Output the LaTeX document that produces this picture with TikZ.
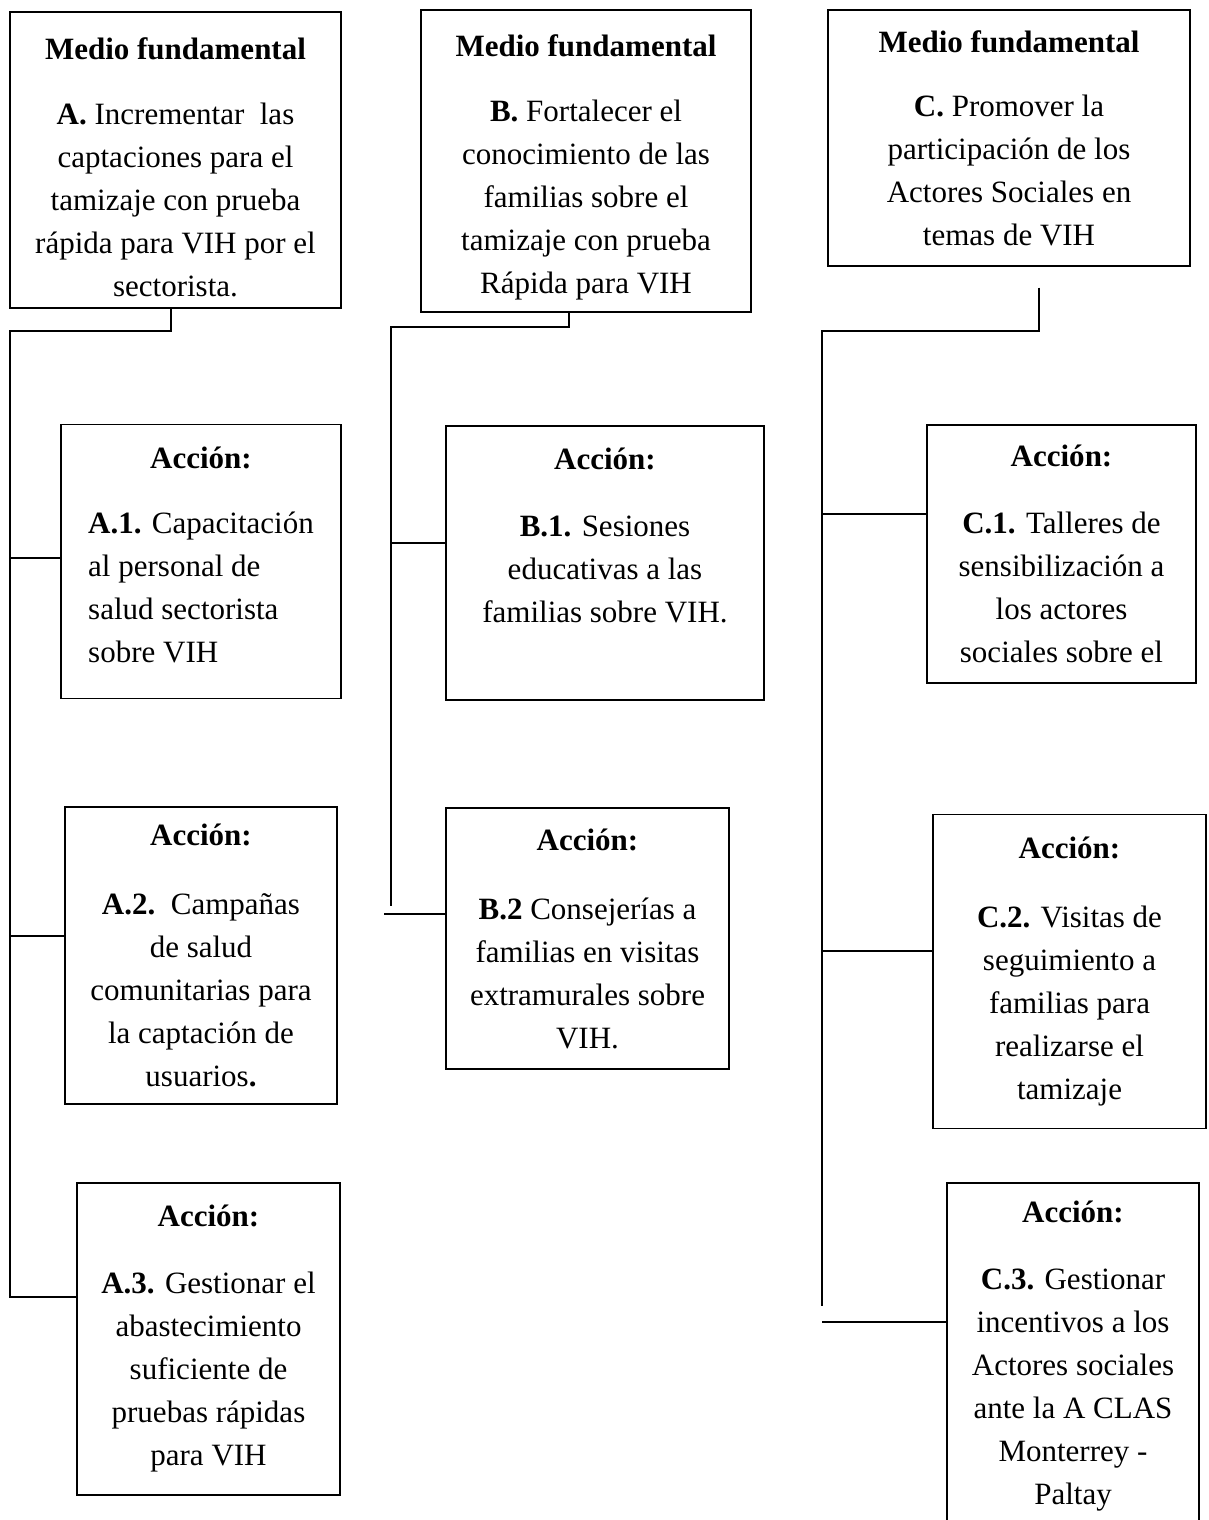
\documentclass[tikz,border=0pt]{standalone}
\usepackage{fontspec}
\setmainfont{Liberation Serif}
\usetikzlibrary{calc}

\begin{document}
\begin{tikzpicture}[x=1pt,y=-1pt,
    box/.style={draw, line width=1.4pt, align=center, inner sep=0pt,
      font={\fontsize{31}{43}\selectfont}},
    link/.style={line width=1.4pt}]
    \useasboundingbox (0,0) rectangle (1208,1520);

    % medios fundamentales
    \node[box, minimum width=331pt, minimum height=296pt] (mfA) at (175.5,160)
      {\rule{0pt}{36pt}\textbf{Medio fundamental}\\[22pt] \textbf{A.} Incrementar\ \ las\\ captaciones para el\\ tamizaje con prueba\\ rápida para VIH por el\\ sectorista.};
    \node[box, minimum width=330pt, minimum height=302pt] (mfB) at (586,161)
      {\rule{0pt}{34pt}\textbf{Medio fundamental}\\[22pt] \textbf{B.} Fortalecer el\\ conocimiento de las\\ familias sobre el\\ tamizaje con prueba\\ Rápida para VIH};
    \node[box, minimum width=362pt, minimum height=256pt] (mfC) at (1009,138)
      {\textbf{Medio fundamental}\\[21pt] \textbf{C.} Promover la\\ participación de los\\ Actores Sociales en\\ temas de VIH};

    % acciones
    \node[box, minimum width=280pt, minimum height=274pt] (a1) at (201,561.5)
      {\textbf{Acción:}\\[22pt] \begin{tabular}[t]{@{}l@{}}\textbf{A.1.} Capacitación\\ al personal de\\ salud sectorista\\ sobre VIH\end{tabular}};
    \node[box, minimum width=272pt, minimum height=297pt] (a2) at (201,955.5)
      {\textbf{Acción:}\\[26pt] \textbf{A.2.}\ \ Campañas\\ de salud\\ comunitarias para\\ la captación de\\ usuarios\textbf{.}};
    \node[box, minimum width=263pt, minimum height=312pt] (a3) at (208.5,1339)
      {\textbf{Acción:}\\[24pt] \textbf{A.3.} Gestionar el\\ abastecimiento\\ suficiente de\\ pruebas rápidas\\ para VIH};
    \node[box, minimum width=318pt, minimum height=274pt] (b1) at (605,563)
      {\textbf{Acción:}\\[24pt] \textbf{B.1.} Sesiones\\ educativas a las\\ familias sobre VIH.\\[12pt] \mbox{}};
    \node[box, minimum width=283pt, minimum height=261pt] (b2) at (587.5,938.5)
      {\textbf{Acción:}\\[26pt] \textbf{B.2} Consejerías a\\ familias en visitas\\ extramurales sobre\\ VIH.};
    \node[box, minimum width=269pt, minimum height=258pt] (c1) at (1061.5,554)
      {\textbf{Acción:}\\[24pt] \textbf{C.1.} Talleres de\\ sensibilización a\\ los actores\\ sociales sobre el};
    \node[box, minimum width=273pt, minimum height=314pt] (c2) at (1069.5,971.5)
      {\textbf{Acción:}\\[26pt] \textbf{C.2.} Visitas de\\ seguimiento a\\ familias para\\ realizarse el\\ tamizaje};
    \node[box, minimum width=252pt, minimum height=347pt] (c3) at (1073,1356.5)
      {\textbf{Acción:}\\[24pt] \textbf{C.3.} Gestionar\\ incentivos a los\\ Actores sociales\\ ante la A CLAS\\ Monterrey -\\ Paltay};

    % puntos de entrada
    \coordinate (a1in) at ([yshift=3.5pt]a1.west);
    \coordinate (a2in) at ([yshift=19.5pt]a2.west);
    \coordinate (a3in) at ([yshift=42pt]a3.west);
    \coordinate (b1in) at ([yshift=20pt]b1.west);
    \coordinate (b2in) at ([yshift=24.5pt]b2.west);
    \coordinate (c1in) at ([yshift=40pt]c1.west);
    \coordinate (c2in) at ([yshift=20.5pt]c2.west);
    \coordinate (c3in) at ([yshift=34.5pt]c3.west);

    % columna A
    \coordinate (jA) at (10,331);
    \draw[link] ([xshift=-4.5pt]mfA.south) |- (jA) |- (a3in);
    \draw[link] (a1in -| jA) -- (a1in);
    \draw[link] (a2in -| jA) -- (a2in);

    % columna B
    \coordinate (jB) at (391,327);
    \coordinate (eB) at (391,906);
    \coordinate (bL) at (384,914);
    \draw[link] ([xshift=-17pt]mfB.south) |- (jB) -- (eB);
    \draw[link] (b1in -| jB) -- (b1in);
    \draw[link] (b2in -| bL) -- (b2in);

    % columna C
    \coordinate (cTop) at ([xshift=30pt,yshift=-21pt]mfC.south);
    \coordinate (jC) at (822,331);
    \coordinate (eC) at (822,1306);
    \draw[link] (cTop) |- (jC) -- (eC);
    \draw[link] (c1in -| jC) -- (c1in);
    \draw[link] (c2in -| jC) -- (c2in);
    \draw[link] (c3in -| jC) -- (c3in);
\end{tikzpicture}
\end{document}
